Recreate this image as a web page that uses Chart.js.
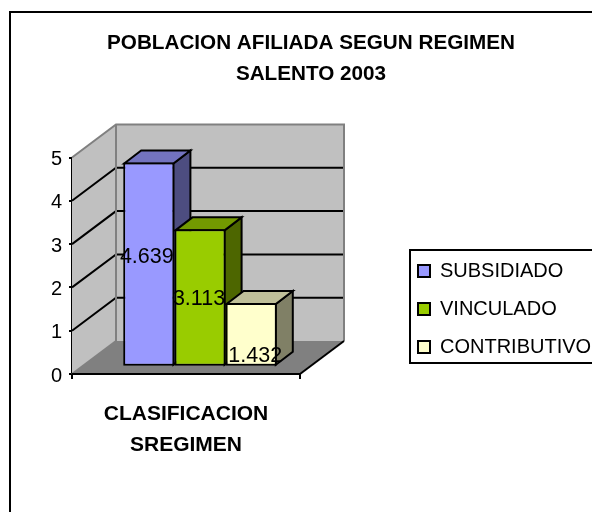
<!DOCTYPE html>
<html>
<head>
<meta charset="utf-8">
<script src="https://cdn.jsdelivr.net/npm/chart.js@4"></script>
<style>
  html, body { margin: 0; padding: 0; background: #fff; }
  canvas { display: block; }
</style>
</head>
<body>
<canvas id="chart" width="592" height="512"></canvas>
<script>
const categories = [["CLASIFICACION", "SREGIMEN"]];
const seriesNames = ["SUBSIDIADO", "VINCULADO", "CONTRIBUTIVO"];
const seriesValues = [4.639, 3.113, 1.432];
const valueLabels = ["4.639", "3.113", "1.432"];
const axisTicks = [0, 1, 2, 3, 4, 5];
const titleLines = ["POBLACION AFILIADA SEGUN REGIMEN", "SALENTO 2003"];

const frontColors = ["#9999ff", "#99cc00", "#ffffcc"];
const topColors = ["#7373bf", "#739900", "#bfbf99"];
const sideColors = ["#4d4d80", "#4d6600", "#808066"];

// depth of the walls and of the bars, in pixels
const wallDepth = { x: 44, y: 33 };
const barDepth = { x: 17, y: 13 };
const floorRight = 300;
const labelShift = [[-2, -7], [-1, 2], [4, 22]];

function polygon(ctx, points, fill, stroke, width) {
  ctx.beginPath();
  points.forEach((p, i) => (i ? ctx.lineTo(p[0], p[1]) : ctx.moveTo(p[0], p[1])));
  ctx.closePath();
  if (fill) {
    ctx.fillStyle = fill;
    ctx.fill();
  }
  if (stroke) {
    ctx.strokeStyle = stroke;
    ctx.lineWidth = width;
    ctx.lineJoin = "miter";
    ctx.stroke();
  }
}

function line(ctx, points, color, width) {
  ctx.beginPath();
  points.forEach((p, i) => (i ? ctx.lineTo(p[0], p[1]) : ctx.moveTo(p[0], p[1])));
  ctx.strokeStyle = color;
  ctx.lineWidth = width;
  ctx.stroke();
}

const framePlugin = {
  id: "frame",
  afterLayout(chart) {
    // legend rows sit one pixel lower than the layout puts them
    chart.legend.top += 1;
    chart.legend.bottom += 1;
  },
  beforeDraw(chart) {
    const ctx = chart.ctx;
    ctx.save();
    ctx.fillStyle = "#fff";
    ctx.fillRect(0, 0, chart.width, chart.height);
    // outer chart border runs off the picture on the right and at the bottom
    ctx.strokeStyle = "#000";
    ctx.lineWidth = 2;
    ctx.strokeRect(10, 12, chart.width + 20, chart.height + 20);
    // legend border
    ctx.strokeRect(410, 250, chart.width, 113);
    ctx.restore();
  }
};

const walls3dPlugin = {
  id: "walls3d",
  beforeDatasetsDraw(chart) {
    const ctx = chart.ctx;
    const y = chart.scales.y;
    const left = y.right;
    const zero = y.getPixelForValue(0);
    const top = y.getPixelForValue(5);
    const dx = wallDepth.x;
    const dy = wallDepth.y;
    const backRight = floorRight + dx;

    ctx.save();
    polygon(ctx, [[left, top], [left + dx, top - dy], [left + dx, zero - dy], [left, zero]], "#c0c0c0");
    polygon(ctx, [[left + dx, top - dy], [backRight, top - dy], [backRight, zero - dy], [left + dx, zero - dy]], "#c0c0c0");
    polygon(ctx, [[left, zero], [left + dx, zero - dy], [backRight, zero - dy], [floorRight, zero]], "#808080");

    axisTicks.forEach((value) => {
      if (value === 0 || value === 5) {
        return;
      }
      const py = y.getPixelForValue(value);
      line(ctx, [[left, py], [left + dx, py - dy], [backRight, py - dy]], "#000", 2);
    });

    line(ctx, [[left, top], [left + dx, top - dy], [backRight, top - dy], [backRight, zero - dy]], "#808080", 2);
    line(ctx, [[left + dx, top - dy], [left + dx, zero - dy]], "#808080", 2);
    line(ctx, [[left, zero], [left + dx, zero - dy]], "#808080", 2);
    line(ctx, [[floorRight, zero], [backRight, zero - dy]], "#000", 2);
    line(ctx, [[left, zero], [floorRight, zero]], "#000", 2);
    line(ctx, [[left, zero], [left, zero + 5]], "#000", 2);
    line(ctx, [[floorRight, zero], [floorRight, zero + 5]], "#000", 2);

    // side and top of each bar, the front comes from the bar element
    seriesValues.forEach((value, i) => {
      const bar = chart.getDatasetMeta(i).data[0];
      const x0 = bar.x - bar.width / 2 + 1;
      const x1 = bar.x + bar.width / 2 - 1;
      const yTop = bar.y + 1;
      const yBase = bar.base - 1;
      polygon(ctx, [[x1, yTop], [x1 + barDepth.x, yTop - barDepth.y], [x1 + barDepth.x, yBase - barDepth.y], [x1, yBase]], sideColors[i], "#000", 2);
      polygon(ctx, [[x0, yTop], [x0 + barDepth.x, yTop - barDepth.y], [x1 + barDepth.x, yTop - barDepth.y], [x1, yTop]], topColors[i], "#000", 2);
    });
    ctx.restore();
  },
  afterDatasetsDraw(chart) {
    const ctx = chart.ctx;
    ctx.save();
    ctx.font = "21.5px 'Liberation Sans'";
    ctx.fillStyle = "#000";
    ctx.textAlign = "center";
    ctx.textBaseline = "middle";
    valueLabels.forEach((text, i) => {
      const bar = chart.getDatasetMeta(i).data[0];
      const mid = (bar.y + bar.base) / 2;
      ctx.fillText(text, bar.x + labelShift[i][0], mid + labelShift[i][1]);
    });
    ctx.restore();
  }
};

new Chart(document.getElementById("chart").getContext("2d"), {
  type: "bar",
  data: {
    labels: categories,
    datasets: seriesNames.map((name, i) => ({
      label: name,
      data: [seriesValues[i]],
      yAxisID: "yBars",
      base: 0,
      backgroundColor: frontColors[i],
      borderColor: "#000",
      borderWidth: 2,
      borderSkipped: false
    }))
  },
  plugins: [framePlugin, walls3dPlugin],
  options: {
    responsive: false,
    animation: false,
    events: [],
    layout: { padding: { left: 30, right: 0, top: 0, bottom: 0 } },
    datasets: { bar: { categoryPercentage: 0.6, barPercentage: 1 } },
    plugins: {
      tooltip: { enabled: false },
      title: {
        display: true,
        text: titleLines,
        color: "#000",
        font: { family: "'Liberation Sans'", size: 20.7, weight: "bold", lineHeight: 1.5 },
        padding: { top: 28, bottom: 67.4 }
      },
      legend: {
        position: "right",
        fullSize: false,
        align: "end",
        maxWidth: 192,
        labels: {
          color: "#000",
          boxWidth: 12,
          boxHeight: 12,
          padding: 18,
          font: { family: "'Liberation Sans'", size: 20 }
        }
      }
    },
    scales: {
      x: {
        type: "category",
        offset: true,
        grid: { display: false },
        border: { display: false },
        ticks: {
          color: "#000",
          padding: 17,
          labelOffset: -14,
          maxRotation: 0,
          autoSkip: false,
          font: { family: "'Liberation Sans'", size: 21, weight: "bold", lineHeight: 1.476 }
        },
        afterFit(scale) {
          scale.height = 138;
        }
      },
      y: {
        position: "left",
        min: 0,
        max: 5,
        afterBuildTicks(scale) {
          scale.ticks = axisTicks.map((value) => ({ value }));
        },
        grid: { drawOnChartArea: false, color: "#000", lineWidth: 2, tickLength: 3 },
        border: { color: "#000", width: 2 },
        ticks: {
          color: "#000",
          padding: 7,
          labelOffset: 2,
          font: { family: "'Liberation Sans'", size: 20 }
        },
        afterFit(scale) {
          scale.width = 42;
        }
      },
      yBars: {
        position: "right",
        min: -0.19,
        max: 4.753,
        grid: { display: false },
        border: { display: false },
        ticks: { display: false },
        afterFit(scale) {
          scale.width = 72;
        }
      }
    }
  }
});
</script>
</body>
</html>
